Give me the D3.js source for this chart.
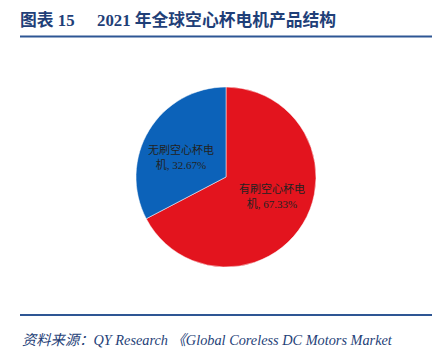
<!DOCTYPE html>
<html><head><meta charset="utf-8">
<script src="https://cdn.jsdelivr.net/npm/d3@7"></script>
<style>body{margin:0;background:#fff}</style>
</head><body>
<svg id="c" width="439" height="359"></svg>
<script>
const categories = ["有刷空心杯电机", "无刷空心杯电机"];
const values = [67.33, 32.67];
const labelLines = [["有刷空心杯电", "机, 67.33%"], ["无刷空心杯电", "机, 32.67%"]];
const colors = ["#E3141E", "#0C62B9"];
const titleText = "2021 年全球空心杯电机产品结构";
const sourceText = "资料来源：QY Research 《Global Coreless DC Motors Market";

const svg = d3.select("#c");
const navy = "#1F3F78";
const serif = "'Liberation Serif','DejaVu Serif','Noto Sans CJK SC',serif";

svg.append("text").attr("x", 20).attr("y", 26).attr("fill", navy)
  .attr("font-family", serif).attr("font-weight", "bold").attr("font-size", 16.8)
  .text("图表 15");
svg.append("text").attr("x", 97).attr("y", 26).attr("fill", navy)
  .attr("font-family", serif).attr("font-weight", "bold").attr("font-size", 16.8)
  .text(titleText);
svg.append("line").attr("x1", 20).attr("x2", 432).attr("y1", 36.5).attr("y2", 36.5)
  .attr("stroke", "#2E5694").attr("stroke-width", 2);

const cx = 226, cy = 177, r = 90;
const pie = d3.pie().sort(null).value(d => d)(values);
const arc = d3.arc().innerRadius(0).outerRadius(r);
const g = svg.append("g").attr("transform", `translate(${cx},${cy})`);
g.selectAll("path").data(pie).join("path")
  .attr("d", arc).attr("fill", (d, i) => colors[i])
  .attr("stroke", "#fff").attr("stroke-width", 0.5);

const labelPos = [[46, 16], [-45, -23]];
pie.forEach((d, i) => {
  const t = g.append("text").attr("text-anchor", "middle")
    .attr("font-family", serif).attr("font-size", 11).attr("fill", "#222");
  labelLines[i].forEach((s, j) => {
    t.append("tspan").attr("x", labelPos[i][0]).attr("y", labelPos[i][1] + j * 15).text(s);
  });
});

svg.append("line").attr("x1", 20).attr("x2", 432).attr("y1", 315).attr("y2", 315)
  .attr("stroke", "#2E5694").attr("stroke-width", 2);
svg.append("text").attr("x", 22).attr("y", 345).attr("fill", navy)
  .attr("font-family", serif).attr("font-style", "italic").attr("font-size", 14.3)
  .text(sourceText);
</script>
</body></html>
